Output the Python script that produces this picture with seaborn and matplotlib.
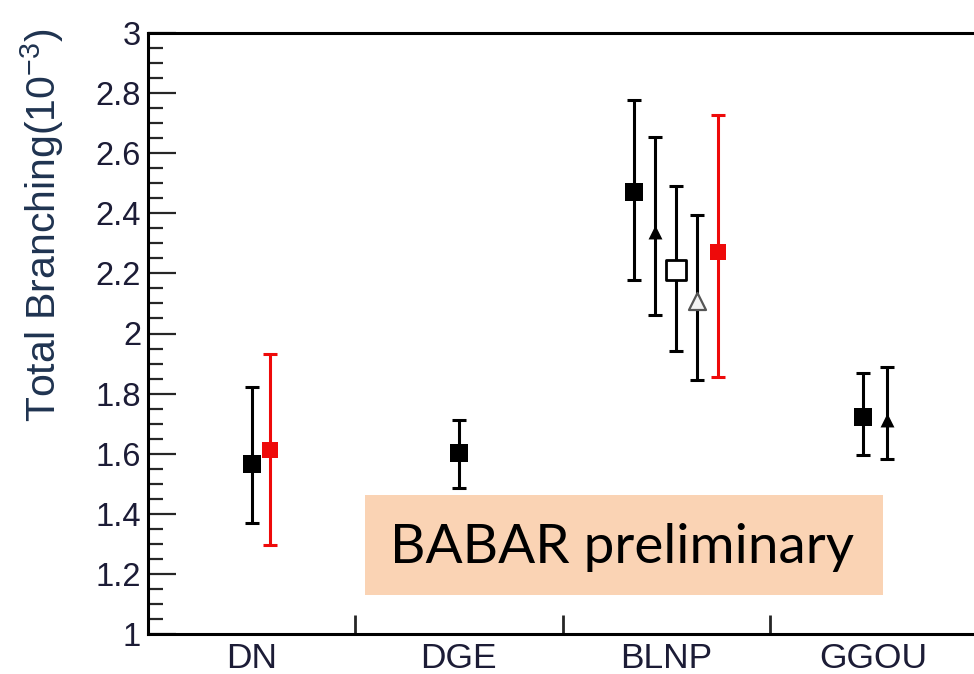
import matplotlib
matplotlib.use("Agg")
import matplotlib.pyplot as plt
import seaborn as sns
import pandas as pd
import numpy as np
from matplotlib.ticker import MultipleLocator, FixedLocator, NullFormatter, FixedFormatter

# ---------------- data ----------------
categories = ["DN", "DGE", "BLNP", "GGOU"]
point_cat = ["DN", "DN", "DGE", "BLNP", "BLNP", "BLNP", "BLNP", "BLNP", "GGOU", "GGOU"]
point_kind = ["sq", "red", "sq", "sq", "tri", "osq", "otri", "red", "sq", "tri"]
point_val = [1.566, 1.612, 1.602, 2.471, 2.338, 2.211, 2.108, 2.271, 1.722, 1.712]
err_low = [1.369, 1.296, 1.486, 2.178, 2.062, 1.942, 1.845, 1.855, 1.596, 1.582]
err_high = [1.822, 1.932, 1.712, 2.777, 2.654, 2.491, 2.394, 2.727, 1.869, 1.889]
# horizontal dodge within each category (fraction of category width)
dodge = [0.0, 0.087, 0.0, -0.157, -0.055, 0.046, 0.147, 0.248, -0.051, 0.065]
y_ticks = [1, 1.2, 1.4, 1.6, 1.8, 2, 2.2, 2.4, 2.6, 2.8, 3]
y_tick_labels = ["1", "1.2", "1.4", "1.6", "1.8", "2", "2.2", "2.4", "2.6", "2.8", "3"]
annotation = "BABAR preliminary"
ylabel = r"Total Branching(10$^{-3}$)"

# ---------------- styling ----------------
sns.set_theme(style="white")
label_font = ["Liberation Sans", "DejaVu Sans"]
plt.rcParams["font.family"] = label_font
plt.rcParams["mathtext.fontset"] = "custom"
plt.rcParams["mathtext.rm"] = "Liberation Sans"
plt.rcParams["mathtext.it"] = "Liberation Sans"
plt.rcParams["mathtext.default"] = "regular"

styles = {
    "sq":   dict(marker="s", color="black", face="black", edge="black", s=150, lw=0),
    "red":  dict(marker="s", color="#ee0a0a", face="#ee0a0a", edge="#ee0a0a", s=130, lw=0),
    "tri":  dict(marker="^", color="black", face="black", edge="black", s=100, lw=0),
    "osq":  dict(marker="s", color="black", face="white", edge="black", s=190, lw=2.0),
    "otri": dict(marker="^", color="black", face="#f2f2f2", edge="#555555", s=150, lw=1.6),
}

df = pd.DataFrame({
    "cat": point_cat, "kind": point_kind, "val": point_val,
    "lo": err_low, "hi": err_high, "dodge": dodge,
})
df["x"] = df["cat"].map({c: i + 0.5 for i, c in enumerate(categories)}) + df["dodge"]

fig = plt.figure(figsize=(9.74, 6.74), dpi=100)
W, H = 974, 674
left, right, top, bottom = 148, 977, 33, 634
ax = fig.add_axes([left / W, 1 - bottom / H, (right - left) / W, (bottom - top) / H])

for _, r in df.iterrows():
    st = styles[r["kind"]]
    ax.errorbar(r["x"], r["val"], yerr=[[r["val"] - r["lo"]], [r["hi"] - r["val"]]],
                fmt="none", ecolor=st["color"], elinewidth=2.2, capsize=5, capthick=2.2,
                zorder=2)

for kind, sub in df.groupby("kind"):
    st = styles[kind]
    sns.scatterplot(data=sub, x="x", y="val", ax=ax, marker=st["marker"], s=st["s"],
                    color=st["face"], edgecolor=st["edge"], linewidth=st["lw"], zorder=3,
                    legend=False)

ax.set_xlim(0, len(categories))
ax.set_ylim(1, 3)
ax.set_xlabel("")
ax.set_ylabel("")

# spines
for sp in ax.spines.values():
    sp.set_linewidth(2.2)
    sp.set_color("black")

tick_color = "#1c1c36"
# y ticks
ax.yaxis.set_major_locator(FixedLocator(y_ticks))
ax.yaxis.set_major_formatter(FixedFormatter(y_tick_labels))
ax.yaxis.set_minor_locator(MultipleLocator(0.05))
ax.tick_params(axis="y", which="major", direction="in", length=20, width=1.6,
               labelsize=23.5, labelcolor=tick_color, pad=5, left=True, right=False)
ax.tick_params(axis="y", which="minor", direction="in", length=11, width=1.6,
               left=True, right=False)

# x ticks: boundaries (major, no labels), centres (minor, labels)
ax.xaxis.set_major_locator(FixedLocator(list(range(1, len(categories)))))
ax.xaxis.set_major_formatter(NullFormatter())
ax.xaxis.set_minor_locator(FixedLocator([i + 0.5 for i in range(len(categories))]))
ax.xaxis.set_minor_formatter(FixedFormatter(categories))
ax.tick_params(axis="x", which="major", direction="in", length=14, width=2.0,
               bottom=True, top=False)
ax.tick_params(axis="x", which="minor", length=0, labelsize=25.5, labelcolor=tick_color,
               pad=6, bottom=True)

# annotation box
bx0, bx1, by0, by1 = 365, 883, 495, 595
fig.patches.append(plt.Rectangle((bx0 / W, 1 - by1 / H), (bx1 - bx0) / W, (by1 - by0) / H,
                                 transform=fig.transFigure, facecolor="#fad3b4",
                                 edgecolor="none", zorder=5))
fig.text(621.5 / W, 1 - 548 / H, annotation,
         ha="center", va="center", fontsize=39.5, color="black",
         family=["Lato", "Open Sans", "DejaVu Sans"], zorder=6)

fig.text(42 / W, 1 - 28 / H, ylabel, rotation=90, ha="center", va="top",
         fontsize=29.5, color="#1f3350", family=label_font)

fig.savefig("out.png", dpi=100, facecolor="white")
